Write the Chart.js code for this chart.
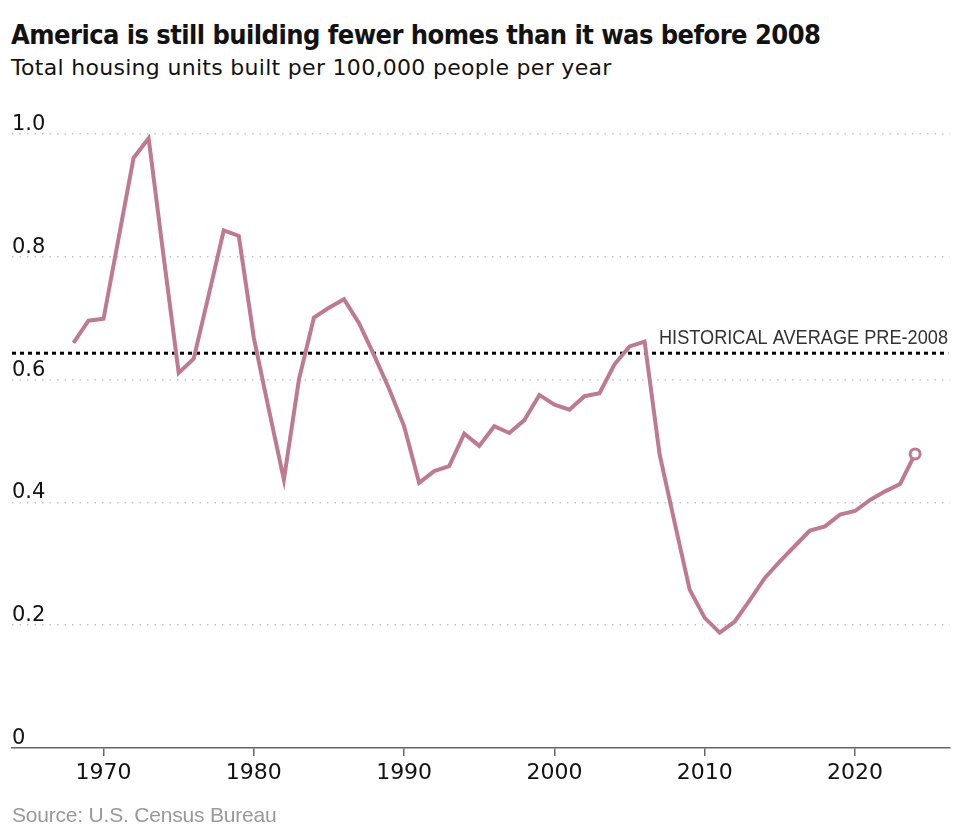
<!DOCTYPE html>
<html>
<head>
<meta charset="utf-8">
<script src="https://cdn.jsdelivr.net/npm/chart.js@4"></script>
<style>
  html, body { margin: 0; padding: 0; background: #fff; }
  body { width: 958px; height: 836px; position: relative; overflow: hidden; }
  .txt { position: absolute; left: 11px; white-space: nowrap; }
  #title { top: 21px; font: bold 27px/27px "DejaVu Sans Condensed", sans-serif; letter-spacing: -0.55px; color: #121212; }
  #subtitle { top: 57px; font: 22px/22px "DejaVu Sans", sans-serif; letter-spacing: 0.3px; color: #121212; }
  #source { top: 804px; left: 12px; font: 21px/21px "Liberation Sans", sans-serif; letter-spacing: -0.2px; color: #999; }
  #wrap { position: absolute; left: 0; top: 0; width: 958px; height: 836px; }
</style>
</head>
<body>
<div id="title" class="txt">America is still building fewer homes than it was before 2008</div>
<div id="subtitle" class="txt">Total housing units built per 100,000 people per year</div>
<div id="wrap"><canvas id="grafico"></canvas></div>
<div id="source" class="txt">Source: U.S. Census Bureau</div>

<script>
// years and values
const years = [
  1968, 1969, 1970, 1971, 1972, 1973, 1974, 1975, 1976, 1977,
  1978, 1979, 1980, 1981, 1982, 1983, 1984, 1985, 1986, 1987,
  1988, 1989, 1990, 1991, 1992, 1993, 1994, 1995, 1996, 1997,
  1998, 1999, 2000, 2001, 2002, 2003, 2004, 2005, 2006, 2007,
  2008, 2009, 2010, 2011, 2012, 2013, 2014, 2015, 2016, 2017,
  2018, 2019, 2020, 2021, 2022, 2023, 2024
];
const unitsBuilt = [
  0.660, 0.696, 0.699, 0.830, 0.961, 0.993, 0.800, 0.611, 0.634, 0.738,
  0.843, 0.834, 0.668, 0.551, 0.437, 0.600, 0.701, 0.717, 0.731, 0.692,
  0.640, 0.585, 0.524, 0.432, 0.451, 0.459, 0.512, 0.492, 0.524, 0.513,
  0.534, 0.575, 0.559, 0.551, 0.573, 0.578, 0.625, 0.654, 0.662, 0.478,
  0.367, 0.258, 0.212, 0.188, 0.206, 0.241, 0.277, 0.304, 0.329, 0.354,
  0.361, 0.380, 0.386, 0.404, 0.418, 0.430, 0.479
];
const historicalAvg = 0.643;
const avgLabel = 'HISTORICAL AVERAGE PRE-2008';
const xTicks = [1970, 1980, 1990, 2000, 2010, 2020];
const yTicks = [0, 0.2, 0.4, 0.6, 0.8, 1.0];
const yTickLabels = ['0', '0.2', '0.4', '0.6', '0.8', '1.0'];

const xMin = 1963.91;
const xMax = 2026.32;
const lineColor = 'rgb(190,122,144)';

// y labels sit above their grid line, at the left edge
const yLabels = {
  id: 'yLabels',
  afterDraw(chart) {
    const {ctx, scales: {y}, chartArea} = chart;
    ctx.save();
    ctx.font = '21px "DejaVu Sans", sans-serif';
    ctx.fillStyle = '#121212';
    ctx.textAlign = 'left';
    ctx.textBaseline = 'alphabetic';
    yTicks.forEach((v, i) => {
      ctx.fillText(yTickLabels[i], chartArea.left, y.getPixelForValue(v) - 4);
    });
    ctx.restore();
  }
};

// label for the dotted average line
const avgText = {
  id: 'avgText',
  afterDatasetsDraw(chart) {
    const {ctx, scales: {y}, chartArea} = chart;
    ctx.save();
    ctx.font = '20px "Liberation Sans", sans-serif';
    ctx.fillStyle = '#333';
    ctx.textAlign = 'right';
    ctx.textBaseline = 'alphabetic';
    ctx.fillText(avgLabel, chartArea.right - 2, y.getPixelForValue(historicalAvg) - 9.5, 289);
    ctx.restore();
  }
};

const data = {
  datasets: [
    {
      label: 'Housing units',
      data: years.map((yr, i) => ({x: yr, y: unitsBuilt[i]})),
      borderColor: lineColor,
      borderWidth: 4,
      borderJoinStyle: 'miter',
      tension: 0,
      pointRadius: ctx => ctx.dataIndex === years.length - 1 ? 5 : 0,
      pointBorderWidth: 3,
      pointBackgroundColor: '#fff',
      pointBorderColor: lineColor,
      order: 1
    },
    {
      label: 'Average',
      data: [{x: xMin, y: historicalAvg}, {x: 2026.2, y: historicalAvg}],
      borderColor: '#000',
      borderWidth: 3,
      borderDash: [4, 4],
      pointRadius: 0,
      order: 2
    }
  ]
};

const config = {
  type: 'line',
  data,
  options: {
    responsive: false,
    animation: false,
    layout: { padding: { top: 134, left: 12, right: 8, bottom: 48 } },
    plugins: { legend: { display: false }, tooltip: { enabled: false } },
    scales: {
      x: {
        type: 'linear',
        min: xMin,
        max: xMax,
        afterBuildTicks: s => { s.ticks = xTicks.map(v => ({value: v})); },
        afterFit: s => { s.height = 40; },
        grid: { drawOnChartArea: false, drawTicks: true, tickLength: 8, color: '#666', lineWidth: 1.5 },
        border: { display: true, color: '#666', width: 1.5 },
        ticks: {
          autoSkip: false,
          maxRotation: 0,
          padding: 4,
          color: '#121212',
          font: { family: '"DejaVu Sans", sans-serif', size: 22 },
          callback: v => String(v)
        }
      },
      y: {
        min: 0,
        max: 1.0,
        afterBuildTicks: s => { s.ticks = yTicks.map(v => ({value: v})); },
        afterFit: s => { s.width = 0; },
        grid: {
          drawTicks: false,
          lineWidth: 1.5,
          color: c => (c.tick && c.tick.value === 0) ? 'rgba(0,0,0,0)' : '#c4c4c4'
        },
        border: { display: false, dash: [1.5, 6] },
        ticks: { display: false }
      }
    }
  },
  plugins: [yLabels, avgText]
};

const canvas = document.getElementById('grafico');
canvas.width = 958;
canvas.height = 836;
canvas.style.width = '958px';
canvas.style.height = '836px';
const myChart = new Chart(canvas, config);
</script>
</body>
</html>
